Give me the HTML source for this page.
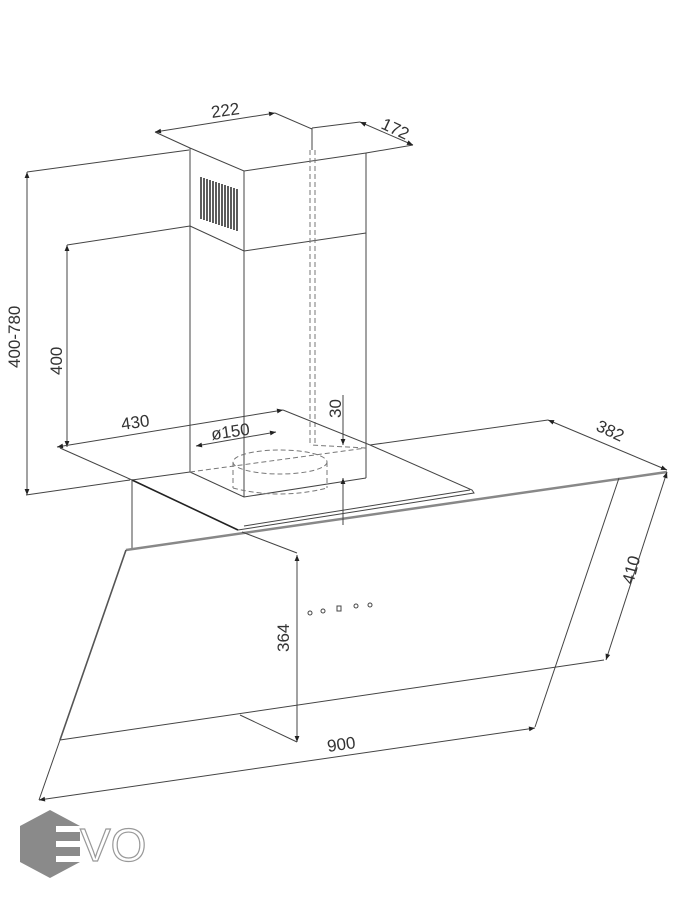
<!DOCTYPE html>
<html><head><meta charset="utf-8"><style>
html,body{margin:0;padding:0;background:#fff;}
svg{display:block;}
text{font-family:"Liberation Sans",sans-serif;font-size:17px;fill:#333;}
</style></head><body>
<svg width="676" height="900" viewBox="0 0 676 900" xmlns="http://www.w3.org/2000/svg">
<defs>
<marker id="a" viewBox="0 0 10 10" refX="10" refY="5" markerWidth="9" markerHeight="6" orient="auto-start-reverse"><path d="M0,1 L10,5 L0,9 z" fill="#222"/></marker>
</defs>
<g stroke="#444" stroke-width="1" fill="none">
<!-- chimney -->
<path d="M190,148 L244,171 L366,153"/>
<path d="M190,148 L190,472 M244,171 L244,497 M366,153 L366,478"/>
<path d="M312,128 L312,150"/>
<path d="M190,226 L244,251 L366,233"/>
<path d="M190,472 L244,497 L366,478"/>
<!-- grille -->
<g stroke="#333" stroke-width="1.6">
<path d="M201,177 v42 M204,178 v42 M207,179 v42 M210,180 v42 M213,181 v42 M216,182 v42 M219,183 v42 M222,184 v42 M225,185 v42 M228,186 v42 M231,187 v42 M234,188 v42 M237,189 v42"/>
</g>
<!-- hidden lines -->
<g stroke="#777" stroke-dasharray="5,3">
<path d="M310,150 L310,445 M315,150 L315,445"/>
<path d="M190,472 L366,448 M366,448 L310,445"/>
<ellipse cx="280" cy="462" rx="47" ry="12"/>
<path d="M233,462 L233,488 M327,462 L327,488"/>
<path d="M233,488 Q280,500 327,488"/>
</g>
<!-- plate -->
<path d="M132,480 L190,472"/>
<path d="M132,480 L238,530" stroke="#222" stroke-width="1.6"/>
<path d="M238,530 L474,493 L472,490 L370,445"/>
<path d="M244,526 L470,490"/>
<path d="M132,480 L132,550"/>
<!-- glass -->
<path d="M126,550 L667,472" stroke="#888" stroke-width="2.5"/>
<path d="M126,550 L60,740" stroke="#555" stroke-width="1.6"/>
<path d="M60,740 L604,660"/>
<path d="M619,478 L535,727"/>
<!-- controls -->
<g stroke="#444">
<circle cx="310" cy="613" r="2"/><circle cx="323" cy="611" r="2"/><rect x="337" y="606" width="4" height="5"/><circle cx="356" cy="606" r="2"/><circle cx="370" cy="605" r="2"/>
</g>
<!-- dims -->
<path d="M27,172 L189,150 M26,495 L130,480"/>
<path d="M27,172 L27,495" marker-start="url(#a)" marker-end="url(#a)"/>
<path d="M67,245 L190,226"/>
<path d="M67,245 L67,447" marker-start="url(#a)" marker-end="url(#a)"/>
<path d="M57,447 L283,410" marker-start="url(#a)" marker-end="url(#a)"/>
<path d="M60,448 L132,480 M283,410 L370,445 L548,420"/>
<path d="M196,446 L276,432" marker-start="url(#a)" marker-end="url(#a)"/>
<path d="M343,395 L343,445" marker-end="url(#a)"/>
<path d="M343,525 L343,478" marker-end="url(#a)"/>
<path d="M155,132 L190,148 M275,113 L312,129 M312,128 L360,122 M366,153 L413,145"/>
<path d="M155,132 L275,113" marker-start="url(#a)" marker-end="url(#a)"/>
<path d="M360,122 L413,145" marker-start="url(#a)" marker-end="url(#a)"/>
<path d="M548,420 L667,470" marker-start="url(#a)" marker-end="url(#a)"/>
<path d="M667,472 L606,660" marker-start="url(#a)" marker-end="url(#a)"/>
<path d="M39,800 L535,728" marker-start="url(#a)" marker-end="url(#a)"/>
<path d="M60,740 L39,800"/>
<path d="M297,555 L297,742" marker-start="url(#a)" marker-end="url(#a)"/>
<path d="M242,532 L297,553 M240,715 L297,742"/>
</g>
<text x="212" y="118" transform="rotate(-8 212 118)">222</text>
<text x="380" y="128" transform="rotate(25 380 128)">172</text>
<text x="20" y="368" transform="rotate(-90 20 368)">400-780</text>
<text x="62" y="375" transform="rotate(-90 62 375)">400</text>
<text x="122" y="430" transform="rotate(-8 122 430)">430</text>
<text x="212" y="440" transform="rotate(-8 212 440)">ø150</text>
<text x="341" y="418" transform="rotate(-90 341 418)">30</text>
<text x="595" y="430" transform="rotate(25 595 430)">382</text>
<text x="633" y="585" transform="rotate(-75 633 585)">410</text>
<text x="289" y="652" transform="rotate(-90 289 652)">364</text>
<text x="328" y="752" transform="rotate(-8 328 752)">900</text>
<!-- logo -->
<polygon points="50,810 80,826 80,862 50,878 20,862 20,826" fill="#8a8a8a"/>
<g fill="#fff"><rect x="56" y="826" width="24" height="6"/><rect x="56" y="841" width="24" height="6"/><rect x="56" y="856" width="24" height="6"/></g>
<text x="80" y="861" style="font-size:46px;fill:#fff;stroke:#999;stroke-width:1.2">VO</text>
</svg>
</body></html>
